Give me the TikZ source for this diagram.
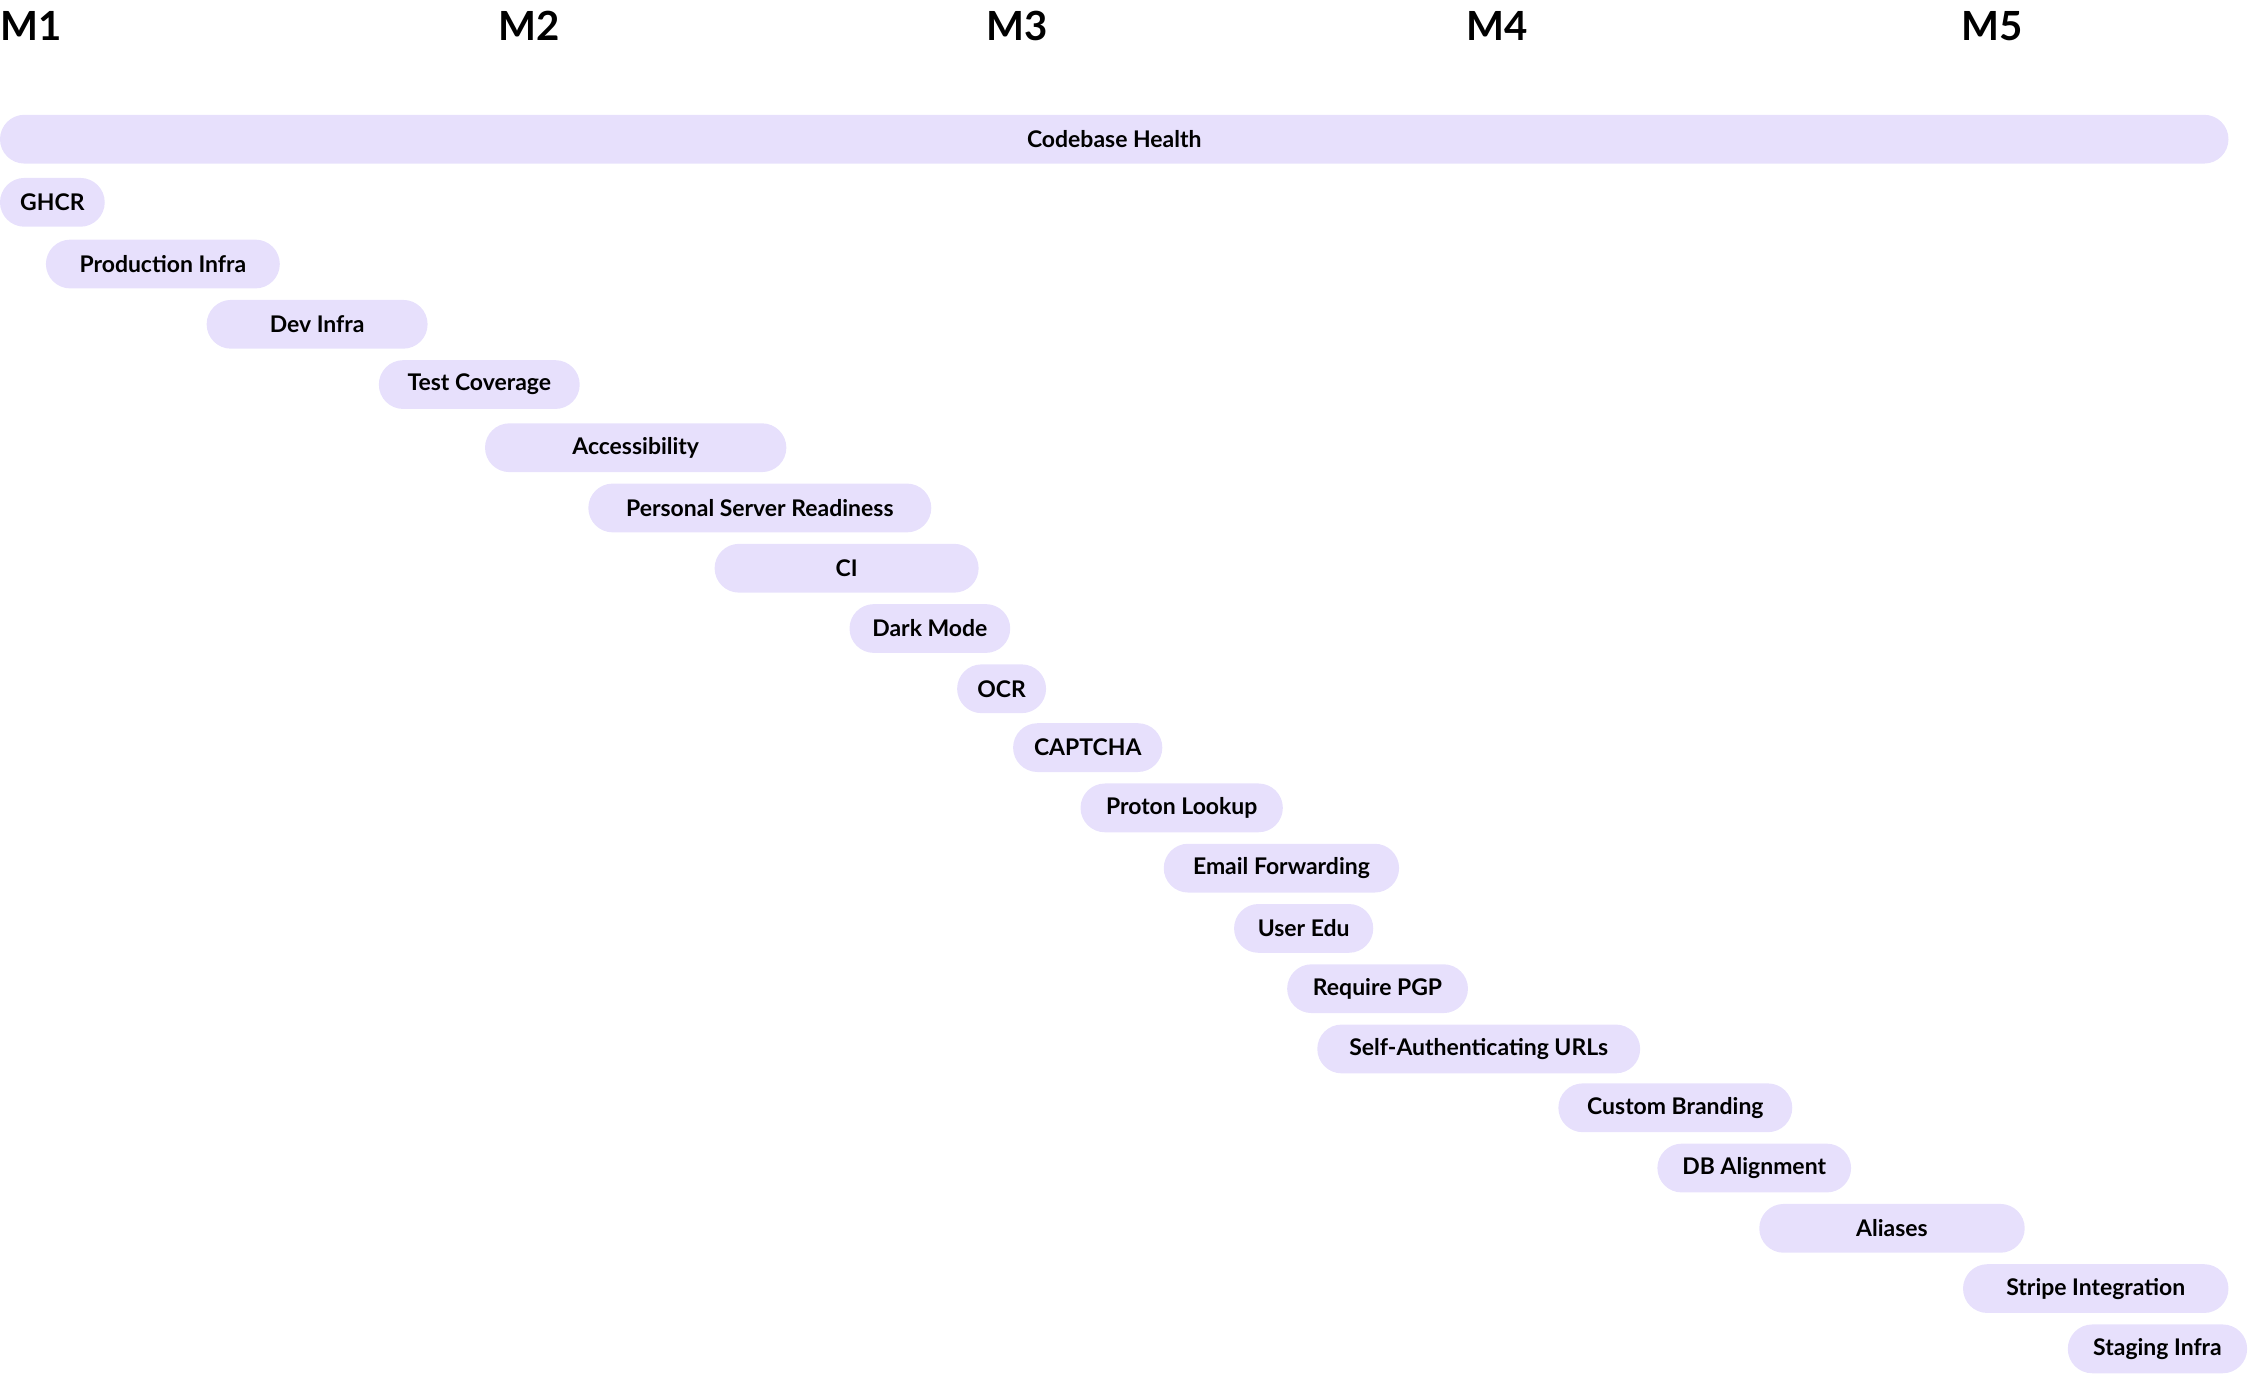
\documentclass[tikz,border=0pt]{standalone}
\usepackage{fontspec}
\setmainfont{Lato}
\definecolor{barfill}{HTML}{E7E0FC}
\tikzset{
  bar/.style={fill=barfill, rounded corners=17pt, minimum height=34pt, inner sep=0pt,
    font=\fontsize{16}{18}\selectfont\bfseries},
  mile/.style={anchor=west, inner sep=0pt, font=\fontsize{28}{30}\selectfont\bfseries}
}
\begin{document}
\begin{tikzpicture}[x=1pt,y=-1pt]
    \useasboundingbox (0,0) rectangle (1568,957);
    \foreach \x/\m in {0/M1,347/M2,687/M3,1022/M4,1367/M5}
      \node[mile] (\m) at (\x,18) {\m};
    \foreach \a/\b/\y/\t [count=\i] in {
      0/1553/97/Codebase Health,
      0/73/141/GHCR,
      32/195/184/Production Infra,
      144/298/226/Dev Infra,
      264/404/268/Test Coverage,
      338/548/312/Accessibility,
      410/649/354/Personal Server Readiness,
      498/682/396/CI/CD Optimization,
      592/704/438/Dark Mode,
      667/729/480/OCR,
      706/810/521/CAPTCHA,
      753/894/563/Proton Lookup,
      811/975/605/Email Forwarding,
      860/957/647/User Edu,
      897/1023/689/Require PGP,
      918/1143/731/Self-Authenticating URLs,
      1086/1249/772/Custom Branding,
      1155/1290/814/DB Alignment,
      1226/1411/856/Aliases,
      1368/1553/898/Stripe Integration,
      1441/1566/940/Staging Infra}
      \node[bar, minimum width=\b-\a] (bar\i) at ({(\a+\b)/2},\y) {\t};
\end{tikzpicture}
\end{document}
